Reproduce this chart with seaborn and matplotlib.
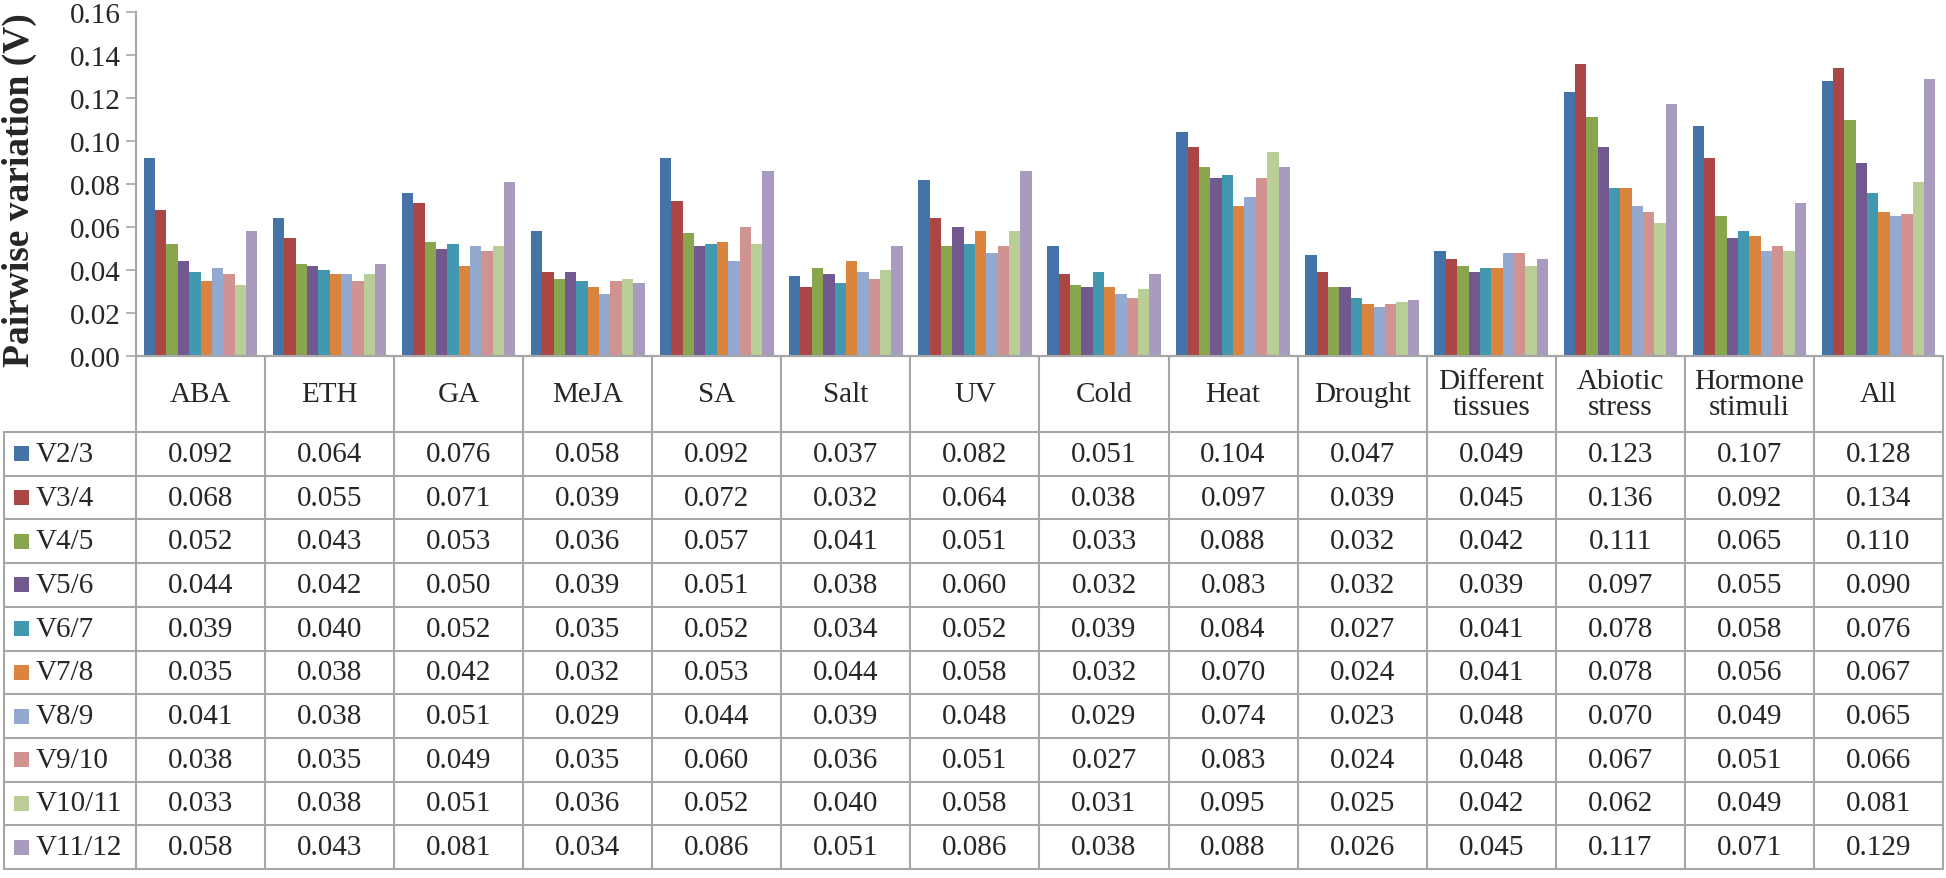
import pandas as pd
import matplotlib
matplotlib.use("Agg")
import matplotlib.pyplot as plt
from matplotlib.patches import Rectangle
from matplotlib.ticker import FormatStrFormatter
import seaborn as sns

# categories (table header) and pairwise series
categories = ["ABA", "ETH", "GA", "MeJA", "SA", "Salt", "UV", "Cold", "Heat", "Drought",
              "Different\ntissues", "Abiotic\nstress", "Hormone\nstimuli", "All"]
pairs = ["V2/3", "V3/4", "V4/5", "V5/6", "V6/7", "V7/8", "V8/9", "V9/10", "V10/11", "V11/12"]

v2_3 = [0.092, 0.064, 0.076, 0.058, 0.092, 0.037, 0.082, 0.051, 0.104, 0.047, 0.049, 0.123, 0.107, 0.128]
v3_4 = [0.068, 0.055, 0.071, 0.039, 0.072, 0.032, 0.064, 0.038, 0.097, 0.039, 0.045, 0.136, 0.092, 0.134]
v4_5 = [0.052, 0.043, 0.053, 0.036, 0.057, 0.041, 0.051, 0.033, 0.088, 0.032, 0.042, 0.111, 0.065, 0.110]
v5_6 = [0.044, 0.042, 0.050, 0.039, 0.051, 0.038, 0.060, 0.032, 0.083, 0.032, 0.039, 0.097, 0.055, 0.090]
v6_7 = [0.039, 0.040, 0.052, 0.035, 0.052, 0.034, 0.052, 0.039, 0.084, 0.027, 0.041, 0.078, 0.058, 0.076]
v7_8 = [0.035, 0.038, 0.042, 0.032, 0.053, 0.044, 0.058, 0.032, 0.070, 0.024, 0.041, 0.078, 0.056, 0.067]
v8_9 = [0.041, 0.038, 0.051, 0.029, 0.044, 0.039, 0.048, 0.029, 0.074, 0.023, 0.048, 0.070, 0.049, 0.065]
v9_10 = [0.038, 0.035, 0.049, 0.035, 0.060, 0.036, 0.051, 0.027, 0.083, 0.024, 0.048, 0.067, 0.051, 0.066]
v10_11 = [0.033, 0.038, 0.051, 0.036, 0.052, 0.040, 0.058, 0.031, 0.095, 0.025, 0.042, 0.062, 0.049, 0.081]
v11_12 = [0.058, 0.043, 0.081, 0.034, 0.086, 0.051, 0.086, 0.038, 0.088, 0.026, 0.045, 0.117, 0.071, 0.129]

series = [v2_3, v3_4, v4_5, v5_6, v6_7, v7_8, v8_9, v9_10, v10_11, v11_12]
colors = ["#4572A7", "#AA4643", "#89A54E", "#71588F", "#4198AF",
          "#DB843D", "#93A9CF", "#D19392", "#B9CD96", "#A99BBD"]

rows = []
for p, vals in zip(pairs, series):
    for c, v in zip(categories, vals):
        rows.append({"category": c, "pair": p, "value": v})
df = pd.DataFrame(rows)

sns.set_style("white")
plt.rcParams['font.family'] = ['Liberation Serif', 'DejaVu Serif']

W, H = 1946, 879
fig = plt.figure(figsize=(W / 100, H / 100), dpi=100)
grid_col = "#A6A6A6"
fs = 21

# chart area
ax = fig.add_axes([136 / W, (H - 357) / H, (1943 - 136) / W, (357 - 13) / H])
sns.barplot(data=df, x="category", y="value", hue="pair", order=categories,
            hue_order=pairs, palette=colors, width=0.88, gap=0, saturation=1,
            legend=False, linewidth=0, ax=ax)
ax.set_xlim(-0.5, len(categories) - 0.5)
ax.set_ylim(0, 0.16)
ax.set_yticks([0, 0.02, 0.04, 0.06, 0.08, 0.10, 0.12, 0.14, 0.16])
ax.yaxis.set_major_formatter(FormatStrFormatter('%.2f'))
ax.set_xticks([])
ax.set_xlabel("")
ax.set_ylabel("")
ax.tick_params(axis='y', direction='out', length=7, width=1.2, color=grid_col,
               labelsize=fs, pad=4, left=True)
for s in ["top", "right"]:
    ax.spines[s].set_visible(False)
for s in ["left", "bottom"]:
    ax.spines[s].set_color(grid_col)
    ax.spines[s].set_linewidth(1.5)
fig.text(2 / W, (H - 190) / H, "Pairwise variation (V)", rotation=90,
         ha="left", va="center", fontsize=27, fontweight="bold")

# data table below the chart
header_h = 76
row_h = (513 - header_h) / len(pairs)
unit = (1943 - 136) / len(categories)
left = -0.5 - (136 - 4) / unit
at = fig.add_axes([4 / W, (H - 870) / H, (1943 - 4) / W, 513 / H])
at.set_xlim(left, len(categories) - 0.5)
at.set_ylim(513, 0)
at.axis("off")

lw = 1.5
at.plot([-0.5, len(categories) - 0.5], [0, 0], color=grid_col, lw=lw, clip_on=False)
for i in range(len(categories) + 1):
    at.plot([i - 0.5, i - 0.5], [0, 513], color=grid_col, lw=lw, clip_on=False)
at.plot([left, left], [header_h, 513], color=grid_col, lw=lw, clip_on=False)
for r in range(len(pairs) + 1):
    y = header_h + r * row_h
    at.plot([left, len(categories) - 0.5], [y, y], color=grid_col, lw=lw, clip_on=False)

for i, c in enumerate(categories):
    at.text(i, header_h / 2, c, ha="center", va="center", fontsize=fs, linespacing=1.0)

for r, (p, vals, col) in enumerate(zip(pairs, series, colors)):
    yc = header_h + (r + 0.5) * row_h
    sq = 15
    at.add_patch(Rectangle((left + 10 / unit, yc - sq / 2), sq / unit, sq,
                           facecolor=col, edgecolor="none", clip_on=False))
    at.text(left + 32 / unit, yc, p, ha="left", va="center", fontsize=fs)
    for i, v in enumerate(vals):
        at.text(i, yc, f"{v:.3f}", ha="center", va="center", fontsize=fs)

fig.savefig("out.png", dpi=100, facecolor="white")
